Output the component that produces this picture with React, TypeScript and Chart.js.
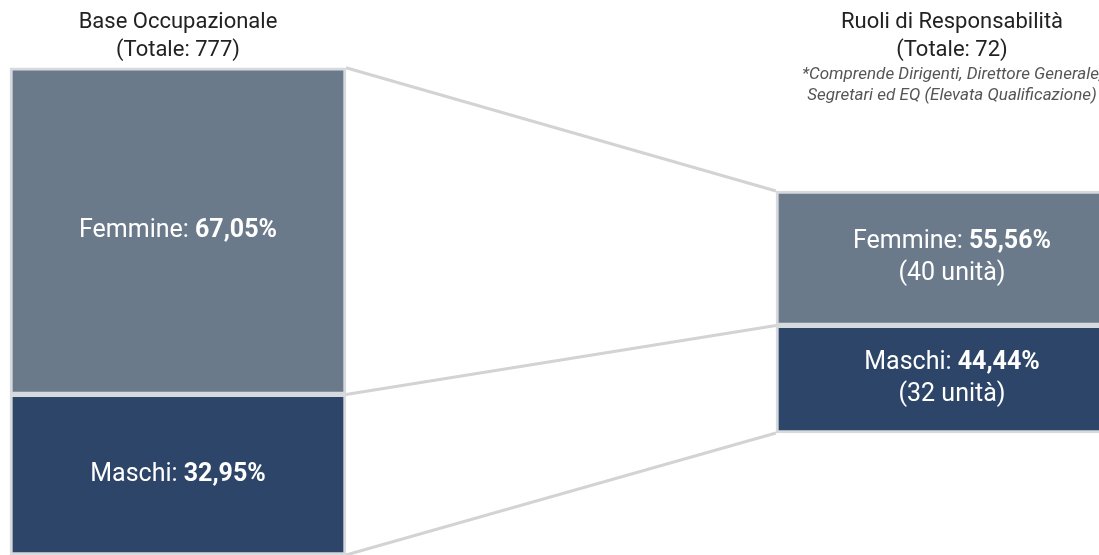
import React, { useEffect, useRef } from "react";
import { Chart, registerables } from "chart.js";

Chart.register(...registerables);

// ---- data ----
const groupNames = ["Base Occupazionale", "Ruoli di Responsabilità"];
const groupTotals = [777, 72];
const femminePct = [67.05, 55.56];
const maschiPct = [32.95, 44.44];
const femmineUnits: (number | null)[] = [null, 40];
const maschiUnits: (number | null)[] = [null, 32];
const noteLines = [
  "*Comprende Dirigenti, Direttore Generale,",
  "Segretari ed EQ (Elevata Qualificazione)",
];

// ---- styles ----
const GRAY = "#6b7a8b";
const NAVY = "#2c4568";
const EDGE = "#d6d9dd";
const LINK = "#d3d3d3";
const FONT = "Roboto";

const fmtPct = (v: number) => v.toFixed(2).replace(".", ",") + "%";

function drawMixed(
  ctx: CanvasRenderingContext2D,
  parts: { text: string; bold: boolean }[],
  cx: number,
  cy: number,
  size: number,
  color: string,
  italic = false
) {
  const fonts = parts.map((p) => `${italic ? "italic " : ""}${p.bold ? "bold " : ""}${size}px ${FONT}`);
  const widths = parts.map((p, i) => {
    ctx.font = fonts[i];
    return ctx.measureText(p.text).width;
  });
  const total = widths.reduce((a, b) => a + b, 0);
  let x = cx - total / 2;
  ctx.fillStyle = color;
  ctx.textAlign = "left";
  ctx.textBaseline = "middle";
  parts.forEach((p, i) => {
    ctx.font = fonts[i];
    ctx.fillText(p.text, x, cy);
    x += widths[i];
  });
}

const overlayPlugin = {
  id: "overlay",
  beforeDatasetsDraw(chart: any) {
    const ctx = chart.ctx as CanvasRenderingContext2D;
    const lM = chart.getDatasetMeta(0).data[0];
    const lF = chart.getDatasetMeta(1).data[0];
    const rM = chart.getDatasetMeta(2).data[0];
    const rF = chart.getDatasetMeta(3).data[0];
    const lx = lF.x + lF.width / 2;
    const rx = rF.x - rF.width / 2;
    ctx.save();
    ctx.strokeStyle = LINK;
    ctx.lineWidth = 3;
    const seg = (y1: number, y2: number) => {
      ctx.beginPath();
      ctx.moveTo(lx, y1);
      ctx.lineTo(rx, y2);
      ctx.stroke();
    };
    seg(lF.y, rF.y);
    seg(lM.y, rM.y);
    seg(lM.base, rM.base);
    ctx.restore();
  },
  afterDatasetsDraw(chart: any) {
    const ctx = chart.ctx as CanvasRenderingContext2D;
    ctx.save();
    for (let g = 0; g < 2; g++) {
      const mEl = chart.getDatasetMeta(g * 2).data[0];
      const fEl = chart.getDatasetMeta(g * 2 + 1).data[0];
      const segs = [
        { el: fEl, name: "Femmine: ", pct: femminePct[g], units: femmineUnits[g] },
        { el: mEl, name: "Maschi: ", pct: maschiPct[g], units: maschiUnits[g] },
      ];
      segs.forEach((s) => {
        const cy = (s.el.y + Math.min(s.el.base, chart.height)) / 2;
        const parts = [
          { text: s.name, bold: false },
          { text: fmtPct(s.pct), bold: true },
        ];
        if (s.units == null) {
          drawMixed(ctx, parts, s.el.x, cy, 25, "#ffffff");
        } else {
          drawMixed(ctx, parts, s.el.x, cy - 16, 25, "#ffffff");
          drawMixed(ctx, [{ text: `(${s.units} unità)`, bold: false }], s.el.x, cy + 16, 25, "#ffffff");
        }
      });
      const cx = fEl.x;
      drawMixed(ctx, [{ text: groupNames[g], bold: false }], cx, 22, 22, "#222222");
      drawMixed(ctx, [{ text: `(Totale: ${groupTotals[g]})`, bold: false }], cx, 50, 22, "#222222");
      if (g === 1) {
        drawMixed(ctx, [{ text: noteLines[0], bold: false }], cx, 75, 17, "#555555", true);
        drawMixed(ctx, [{ text: noteLines[1], bold: false }], cx, 96, 17, "#555555", true);
      }
    }
    ctx.restore();
  },
};

export default function App() {
  const ref = useRef<HTMLCanvasElement | null>(null);
  useEffect(() => {
    if (!ref.current) return;
    const common = {
      borderColor: EDGE,
      borderWidth: 3,
      borderSkipped: false as const,
      grouped: false,
    };
    const chart = new Chart(ref.current, {
      type: "bar",
      data: {
        datasets: [
          { ...common, label: "Maschi", data: [{ x: 0, y: maschiPct[0] }], backgroundColor: NAVY, yAxisID: "yL", barThickness: 336 },
          { ...common, label: "Femmine", data: [{ x: 0, y: femminePct[0] }], backgroundColor: GRAY, yAxisID: "yL", barThickness: 336 },
          { ...common, label: "Maschi", data: [{ x: 1, y: maschiPct[1] }], backgroundColor: NAVY, yAxisID: "yR", barThickness: 352 },
          { ...common, label: "Femmine", data: [{ x: 1, y: femminePct[1] }], backgroundColor: GRAY, yAxisID: "yR", barThickness: 352 },
        ] as any,
      },
      options: {
        animation: false,
        responsive: true,
        maintainAspectRatio: false,
        layout: { padding: 0 },
        plugins: { legend: { display: false }, tooltip: { enabled: false }, title: { display: false } },
        scales: {
          x: { type: "linear", display: false, min: -0.22997, max: 1.18992, offset: false },
          yL: { type: "linear", display: false, stacked: true, min: 0, max: 113.9 },
          yR: { type: "linear", display: false, stacked: true, min: -50.4, max: 178.9 },
        },
      } as any,
      plugins: [overlayPlugin],
    });
    return () => chart.destroy();
  }, []);
  return (
    <div style={{ position: "fixed", left: 0, top: 0, width: 1099, height: 555, background: "#ffffff" }}>
      <canvas ref={ref} />
    </div>
  );
}
